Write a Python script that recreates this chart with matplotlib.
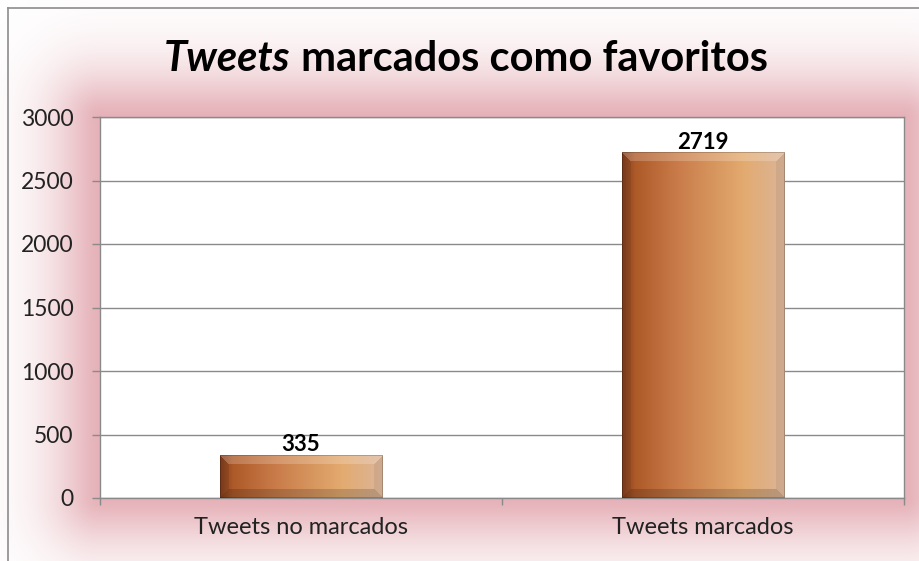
import numpy as np
import matplotlib
matplotlib.use("Agg")
import matplotlib.pyplot as plt
from matplotlib.lines import Line2D

categories = ["Tweets no marcados", "Tweets marcados"]
values = [335, 2719]
y_ticks = [0, 500, 1000, 1500, 2000, 2500, 3000]
title_italic = "Tweets"
title_rest = " marcados como favoritos"

W, H = 920, 561
DPI = 100
FONT = "Lato"
GRID = "#8a8a8a"

fig = plt.figure(figsize=(W / DPI, H / DPI), dpi=DPI)
fig.patch.set_facecolor("white")

# plot area in pixel coordinates (left, top, right, bottom)
px0, py0, px1, py1 = 100, 117, 904, 498

# soft pink glow behind the plot area
bg = fig.add_axes([0, 0, 1, 1], zorder=0)
bg.set_xlim(0, W)
bg.set_ylim(H, 0)
bg.axis("off")
yy, xx = np.mgrid[0:H, 0:W] + 0.5
dx = np.maximum(np.maximum(px0 - xx, 0), xx - px1)
dy = np.maximum(np.maximum(py0 - yy, 0), yy - py1)
d = np.hypot(dx, dy)
alpha = 0.55 * np.exp(-0.5 * (d / 32.0) ** 1.5)
pink = np.array([0.82, 0.45, 0.50])
img = 1 - alpha[..., None] * (1 - pink[None, None, :])
bg.imshow(img, extent=(0, W, H, 0), interpolation="bilinear", aspect="auto")
# chart frame
bg.add_line(Line2D([8, 8], [8, H], color="#8c8c8c", lw=1.2))
bg.add_line(Line2D([8, W], [8, 8], color="#8c8c8c", lw=1.2))

ax = fig.add_axes([px0 / W, 1 - py1 / H, (px1 - px0) / W, (py1 - py0) / H], zorder=2)
ax.set_facecolor("white")
ax.set_xlim(-0.5, 1.5)
ax.set_ylim(0, 3000)
ax.set_yticks(y_ticks)
ax.set_yticklabels([str(t) for t in y_ticks], fontfamily=FONT, fontsize=16.5, color="#222222")
ax.set_xticks(range(len(categories)))
ax.set_xticklabels(categories, fontfamily=FONT, fontsize=17, color="#222222")
ax.set_xticks([-0.5, 0.5, 1.5], minor=True)
ax.tick_params(axis="x", which="major", length=0, pad=14)
ax.tick_params(axis="x", which="minor", length=5, color=GRID, width=1)
ax.tick_params(axis="y", length=6, color=GRID, width=1, pad=13)
for s in ax.spines.values():
    s.set_color(GRID)
    s.set_linewidth(1)
ax.yaxis.grid(True, color=GRID, lw=1)
ax.set_axisbelow(True)

bar_w = 0.405
bars = ax.bar(range(len(values)), values, width=bar_w, color="none",
              edgecolor="none", zorder=3)

# horizontal colour ramp of the bars, with a bevelled frame
stops = np.array([0.0, 0.08, 0.35, 0.75, 1.0])
cols = np.array([
    [0.50, 0.24, 0.11],
    [0.68, 0.35, 0.16],
    [0.79, 0.49, 0.29],
    [0.89, 0.67, 0.44],
    [0.86, 0.71, 0.60],
])
fig.canvas.draw()
for rect, v in zip(bars.patches, values):
    x0 = rect.get_x()
    x1 = x0 + rect.get_width()
    p0 = ax.transData.transform((x0, 0))
    p1 = ax.transData.transform((x1, v))
    bw = max(int(round(p1[0] - p0[0])), 2)
    bh = max(int(round(p1[1] - p0[1])), 2)
    t = (np.arange(bw) + 0.5) / bw
    ramp = np.stack([np.interp(t, stops, cols[:, k]) for k in range(3)], axis=-1)
    im = np.repeat(ramp[None, :, :], bh, axis=0)
    r, c = np.mgrid[0:bh, 0:bw] + 0.5
    dt, db, dl, dr = r, bh - r, c, bw - c
    dmin = np.minimum(np.minimum(dt, db), np.minimum(dl, dr))
    b = 9.0
    top = (dt == dmin) & (dt < b)
    bot = (db == dmin) & (db < b) & ~top
    lef = (dl == dmin) & (dl < b) & ~top & ~bot
    rig = (dr == dmin) & (dr < b) & ~top & ~bot & ~lef
    im[top] = im[top] + (1 - im[top]) * 0.20
    im[bot] = im[bot] * 0.84
    im[lef] = im[lef] * 0.92
    im[rig] = im[rig] * 0.94
    edge = dmin < 1.2
    im[edge] = im[edge] * 0.80
    ax.imshow(np.clip(im, 0, 1), extent=(x0, x1, 0, v), origin="upper",
              aspect="auto", interpolation="bilinear", zorder=3,
              clip_path=rect, clip_on=True)
    ax.text(rect.get_x() + rect.get_width() / 2, v, str(v), ha="center",
            va="bottom", fontfamily=FONT, fontweight="bold", fontsize=16,
            color="black", zorder=4)
ax.set_xlim(-0.5, 1.5)
ax.set_ylim(0, 3000)

# title: italic first word followed by upright text, centred as a whole
renderer = fig.canvas.get_renderer()
t1 = fig.text(0, 0, title_italic, fontfamily=FONT, fontweight="bold",
              fontstyle="italic", fontsize=30, va="baseline")
t2 = fig.text(0, 0, title_rest, fontfamily=FONT, fontweight="bold", fontsize=30,
              va="baseline")
w1 = t1.get_window_extent(renderer).width
w2 = t2.get_window_extent(renderer).width
cx, base_y = 466, 71
start = cx - (w1 + w2) / 2
t1.set_position((start / W, 1 - base_y / H))
t2.set_position(((start + w1) / W, 1 - base_y / H))

fig.savefig("out.png", dpi=DPI, facecolor="white")
